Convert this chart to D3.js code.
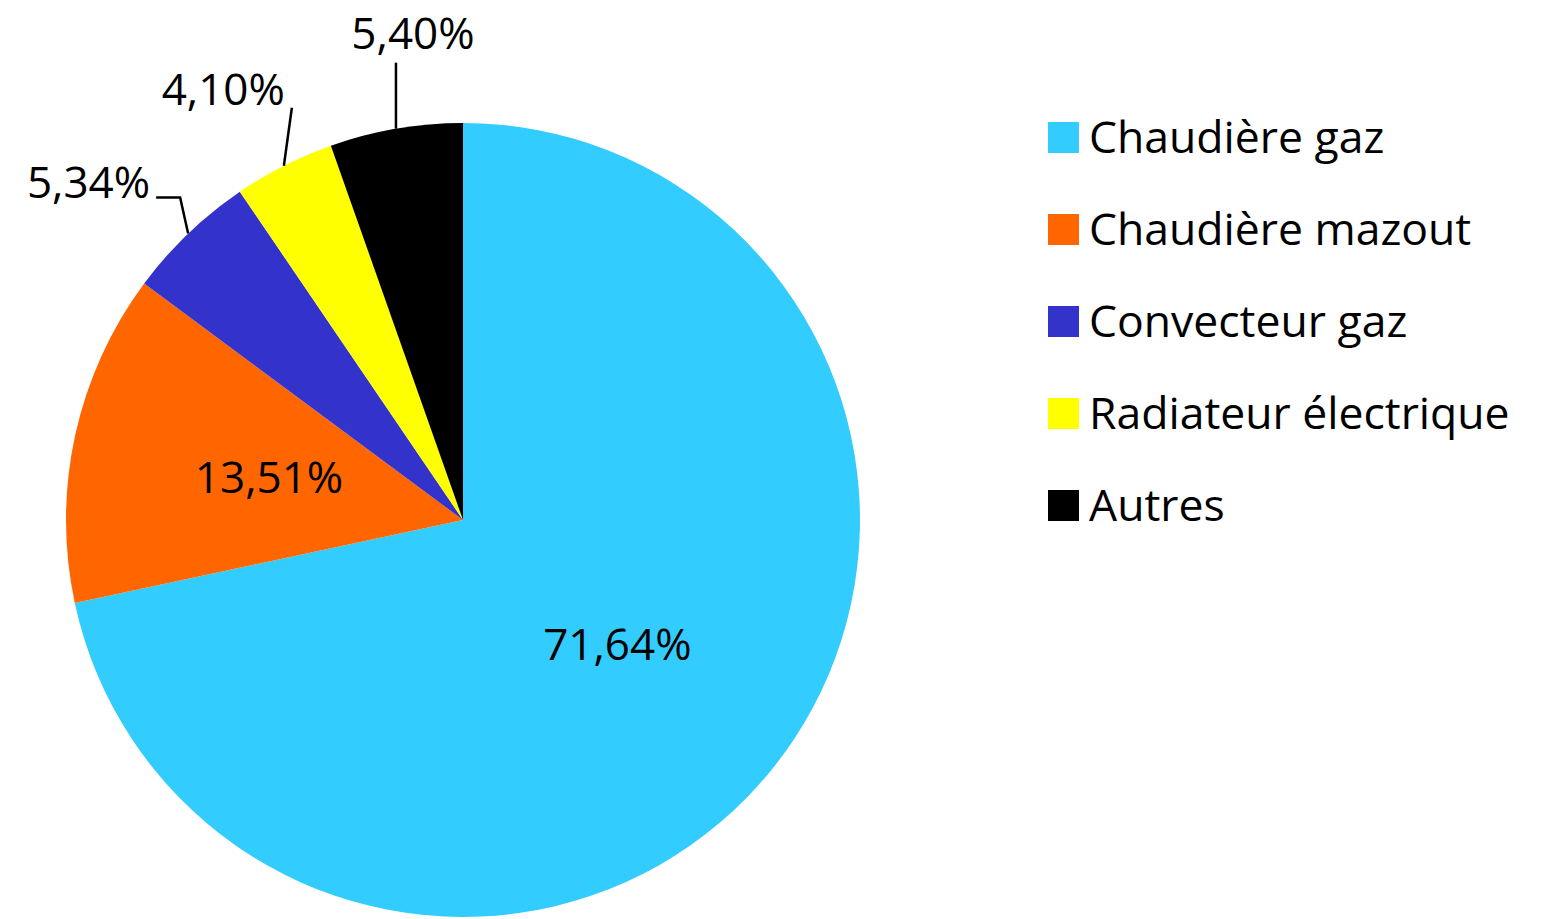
<!DOCTYPE html>
<html>
  <head>
    <meta http-equiv="Content-type" content="text/html; charset=utf-8">
    <title>Chauffage</title>
    <script src="https://cdn.jsdelivr.net/npm/d3@7"></script>
    <style>
      body { margin: 0; background: #fff; }
      text { font-family: "Open Sans", sans-serif; fill: #000; }
    </style>
  </head>
  <body>
    <div id="chart"></div>
    <script type="text/javascript">
      var categories = ["Chaudière gaz", "Chaudière mazout", "Convecteur gaz", "Radiateur électrique", "Autres"];
      var values = [71.64, 13.51, 5.34, 4.10, 5.40];
      var labels = ["71,64%", "13,51%", "5,34%", "4,10%", "5,40%"];
      var colors = ["#33ccff", "#ff6600", "#3333cc", "#ffff00", "#000000"];

      var width = 1547,
        height = 919,
        radius = 397,
        cx = 463,
        cy = 520;

      var data = categories.map(function(c, i) {
        return { name: c, num: values[i], label: labels[i] };
      });

      // how each small slice's label is pulled out: elbow / end of the leader and text anchor
      var outside = {
        "Convecteur gaz": { leg: [[-8, -36], [-32, -36]], text: [-6, 0], anchor: "end" },
        "Radiateur électrique": { leg: [[8, -58]], text: [-7, -3], anchor: "end" },
        "Autres": { leg: [[0, -66]], text: [17, -14], anchor: "middle" }
      };

      var color = d3.scaleOrdinal().domain(categories).range(colors);

      var pie = d3.pie().sort(null).value(function(d) { return d.num; });
      var arc = d3.arc().innerRadius(0).outerRadius(radius);
      var labelArc = d3.arc().innerRadius(radius * 0.5).outerRadius(radius * 0.5);

      var svg = d3.select("#chart").append("svg")
        .attr("width", width)
        .attr("height", height);

      var g = svg.append("g")
        .attr("transform", "translate(" + cx + "," + cy + ")");

      var arcs = g.selectAll("g.arc")
        .data(pie(data))
        .enter().append("g")
        .attr("class", "arc");

      arcs.append("path")
        .attr("d", arc)
        .style("fill", function(d) { return color(d.data.name); });

      arcs.each(function(d) {
        var sel = d3.select(this);
        var o = outside[d.data.name];
        if (!o) {
          sel.append("text")
            .attr("text-anchor", "middle")
            .attr("dy", "0.35em")
            .style("font-size", "44px")
            .attr("transform", "translate(" + labelArc.centroid(d) + ")")
            .text(d.data.label);
          return;
        }
        var a = (d.startAngle + d.endAngle) / 2;
        var p0 = [radius * Math.sin(a), -radius * Math.cos(a)];
        var pts = [p0].concat(o.leg.map(function(v) { return [p0[0] + v[0], p0[1] + v[1]]; }));
        var end = pts[pts.length - 1];
        sel.append("path")
          .attr("d", d3.line()(pts))
          .style("fill", "none")
          .style("stroke", "#000")
          .style("stroke-width", 2.5);
        sel.append("text")
          .attr("text-anchor", o.anchor)
          .attr("x", end[0] + o.text[0])
          .attr("y", end[1] + o.text[1])
          .style("font-size", "44px")
          .text(d.data.label);
      });

      // legend
      var legend = svg.append("g")
        .attr("transform", "translate(1048,122)");

      var item = legend.selectAll("g")
        .data(categories)
        .enter().append("g")
        .attr("transform", function(d, i) { return "translate(0," + i * 92 + ")"; });

      item.append("rect")
        .attr("width", 31)
        .attr("height", 31)
        .style("fill", function(d) { return color(d); });

      item.append("text")
        .attr("x", 41)
        .attr("y", 15.5)
        .attr("dy", "0.35em")
        .style("font-size", "44.5px")
        .text(function(d) { return d; });
    </script>
  </body>
</html>
